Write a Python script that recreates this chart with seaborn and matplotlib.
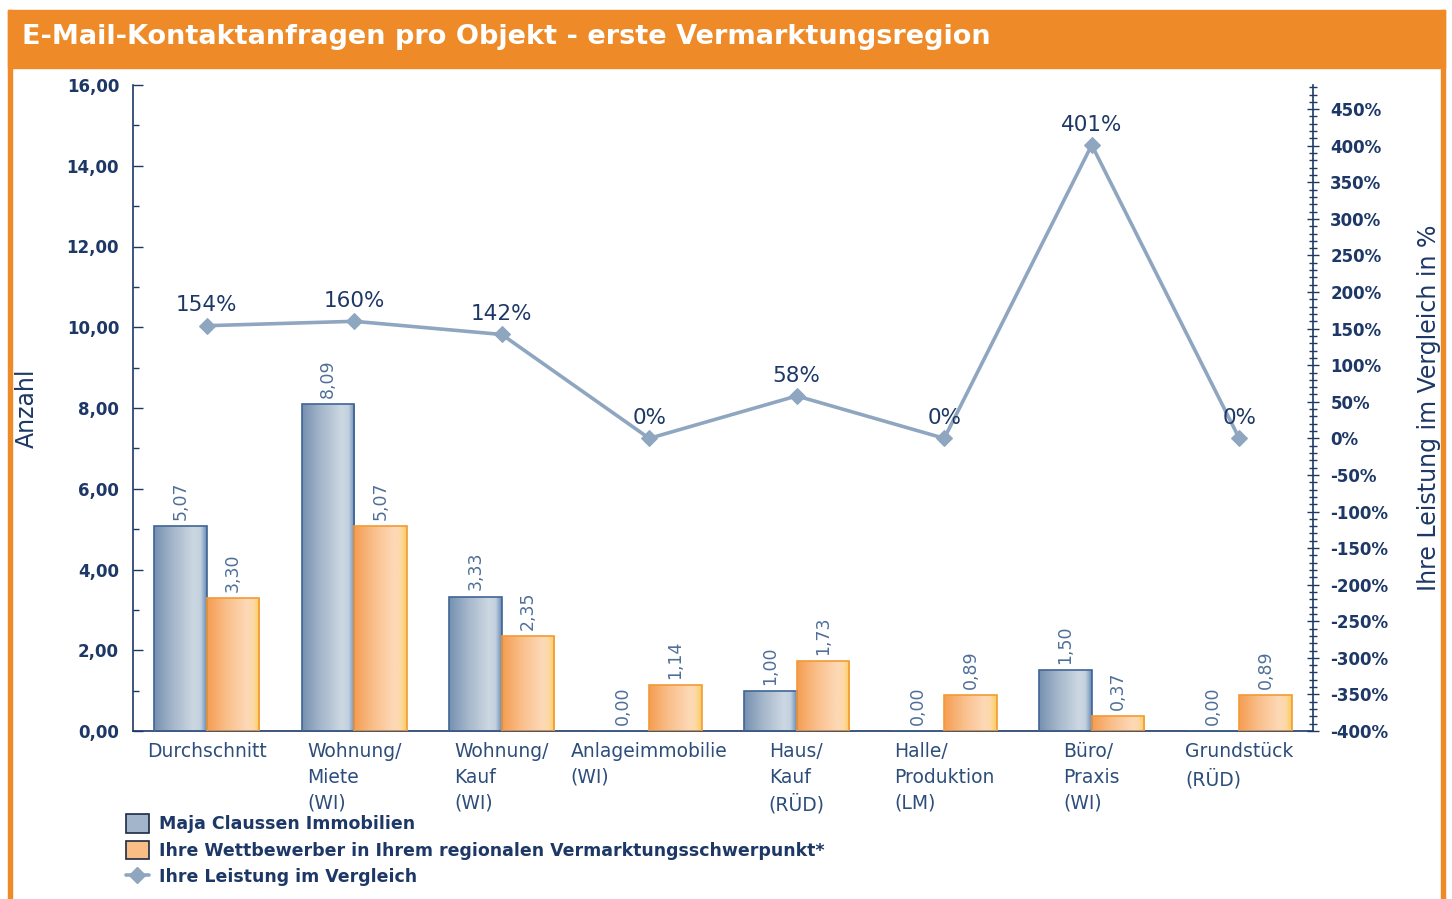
import numpy as np
import pandas as pd
import seaborn as sns
import matplotlib.pyplot as plt
from matplotlib.ticker import MultipleLocator, FuncFormatter
from matplotlib.colors import LinearSegmentedColormap
from matplotlib.patches import Rectangle, Patch
from matplotlib.lines import Line2D

# --- data ---
kategorien = ["Durchschnitt", "Wohnung/\nMiete\n(WI)", "Wohnung/\nKauf\n(WI)",
              "Anlageimmobilie\n(WI)", "Haus/\nKauf\n(RÜD)", "Halle/\nProduktion\n(LM)",
              "Büro/\nPraxis\n(WI)", "Grundstück\n(RÜD)"]
maja = [5.07, 8.09, 3.33, 0.00, 1.00, 0.00, 1.50, 0.00]
wettbewerb = [3.30, 5.07, 2.35, 1.14, 1.73, 0.89, 0.37, 0.89]
leistung = [154, 160, 142, 0, 58, 0, 401, 0]

serie_a = "Maja Claussen Immobilien"
serie_b = "Ihre Wettbewerber in Ihrem regionalen Vermarktungsschwerpunkt*"
serie_c = "Ihre Leistung im Vergleich"

NAVY = "#1d3866"
LABEL_BLUE = "#4f6f99"
LINE_COL = "#8fa6c0"
ORANGE = "#ee8a27"

df = pd.DataFrame({
    "Kategorie": kategorien * 2,
    "Anzahl": maja + wettbewerb,
    "Serie": [serie_a] * len(maja) + [serie_b] * len(wettbewerb),
})

sns.set_style("white")
plt.rcParams['font.family'] = ['DejaVu Sans']

fig = plt.figure(figsize=(14.52, 8.99), dpi=100)
ax = fig.add_axes([133 / 1452, 1 - 731 / 899, 1180 / 1452, 646 / 899])

sns.barplot(data=df, x="Kategorie", y="Anzahl", hue="Serie", ax=ax,
            palette=["#9fb2c8", "#f9c08a"], width=0.71, legend=False,
            saturation=1, edgecolor="none")

# gradient fill for the bars (dark left, light towards the right, edge stripe)
cm_blue = LinearSegmentedColormap.from_list(
    "b", [(0, "#7690b0"), (0.35, "#a4b6ca"), (0.75, "#ccd7e2"),
          (0.88, "#c3d0de"), (0.95, "#8fa9c8"), (1, "#6188b6")])
cm_orange = LinearSegmentedColormap.from_list(
    "o", [(0, "#f59d52"), (0.35, "#f9bd88"), (0.75, "#fdd8b6"),
          (0.88, "#fdd9a8"), (0.95, "#fcd27a"), (1, "#fbca5a")])
grad = np.linspace(0, 1, 256).reshape(1, -1)
n = len(kategorien)
for i, bar in enumerate(ax.patches[:2 * n]):
    x, w, h = bar.get_x(), bar.get_width(), bar.get_height()
    blue = i < n
    bar.set_facecolor("none")
    bar.set_edgecolor("#3f6596" if blue else "#f29a35")
    bar.set_linewidth(1.2)
    bar.set_zorder(3)
    if h > 0:
        im = ax.imshow(grad, extent=[x, x + w, 0, h], aspect="auto",
                       cmap=cm_blue if blue else cm_orange, zorder=2.5)
        im.set_clip_path(bar)
    txt = f"{h:.2f}".replace(".", ",")
    ax.text(x + w / 2, h + 0.15, txt, rotation=90, ha="center", va="bottom",
            fontsize=12.5, color=LABEL_BLUE, zorder=4)

ax.set_xlim(-0.5, n - 0.5)
ax.set_ylim(0, 16)
ax.yaxis.set_major_locator(MultipleLocator(2))
ax.yaxis.set_minor_locator(MultipleLocator(1))
ax.yaxis.set_major_formatter(FuncFormatter(lambda v, p: f"{v:.2f}".replace(".", ",")))
ax.tick_params(axis="y", which="major", direction="in", length=7, width=1,
               color=NAVY, labelsize=12, labelcolor=NAVY, pad=10, left=True)
ax.tick_params(axis="y", which="minor", direction="in", length=4, width=1,
               color=NAVY, left=True)
for lab in ax.get_yticklabels():
    lab.set_fontweight("bold")
ax.tick_params(axis="x", length=0, pad=8)
ax.set_xticks(range(n))
ax.set_xticklabels(kategorien, fontsize=13.5, color="#2d4e7b",
                   ha="center", multialignment="left", linespacing=1.45, va="top")
ax.set_xlabel("")
ax.set_ylabel("Anzahl", fontsize=17, color=NAVY)
ax.yaxis.set_label_coords(-0.08, 0.5)
for s in ["top", "right"]:
    ax.spines[s].set_visible(False)
for s in ["left", "bottom"]:
    ax.spines[s].set_color(NAVY)
    ax.spines[s].set_linewidth(1.2)

# performance line on the secondary axis
ax2 = ax.twinx()
sns.lineplot(x=np.arange(n), y=leistung, ax=ax2, color=LINE_COL, linewidth=2.6,
             marker="D", markersize=8.5, markeredgecolor=LINE_COL, zorder=5)
for xi, v in enumerate(leistung):
    ax2.text(xi, v + 14, f"{v}%", ha="center", va="bottom", fontsize=15.5,
             color=NAVY, zorder=6)
ax2.set_ylim(-400, 483)
ax2.yaxis.set_major_locator(MultipleLocator(50))
ax2.yaxis.set_minor_locator(MultipleLocator(10))
ax2.yaxis.set_major_formatter(FuncFormatter(lambda v, p: f"{v:.0f}%"))
ax2.tick_params(axis="y", which="major", direction="inout", length=9, width=1,
                color=NAVY, labelsize=12, labelcolor=NAVY, pad=8)
ax2.tick_params(axis="y", which="minor", direction="inout", length=6, width=1,
                color=NAVY)
for lab in ax2.get_yticklabels():
    lab.set_fontweight("bold")
ax2.set_ylabel("Ihre Leistung im Vergleich in %", fontsize=17, color=NAVY, rotation=90)
ax2.yaxis.set_label_coords(1.088, 0.5)
for s in ["top", "left", "bottom"]:
    ax2.spines[s].set_visible(False)
ax2.spines["right"].set_color(NAVY)
ax2.spines["right"].set_linewidth(1.2)
ax2.set_xlim(-0.5, n - 0.5)

# legend
handles = [
    Patch(facecolor="#a3b5ca", edgecolor="#1b2a44", linewidth=1.2, label=serie_a),
    Patch(facecolor="#f9bd86", edgecolor="#1b2a44", linewidth=1.2, label=serie_b),
    Line2D([0], [0], color=LINE_COL, linewidth=2.6, marker="D", markersize=8,
           label=serie_c),
]
leg = fig.legend(handles=handles, loc="upper left", bbox_to_anchor=(0.076, 0.112),
                 frameon=False, handlelength=1.3, handleheight=1.3, labelspacing=0.42,
                 handletextpad=0.6, prop={"size": 12.5, "weight": "bold"})
for t in leg.get_texts():
    t.set_color(NAVY)

# orange frame and title band
fig.patches.append(Rectangle((8 / 1452, 1 - 68 / 899), 1437 / 1452, 58 / 899,
                             transform=fig.transFigure, color=ORANGE, zorder=0))
fig.patches.append(Rectangle((8 / 1452, 0), 4 / 1452, 1 - 10 / 899,
                             transform=fig.transFigure, color=ORANGE, zorder=0))
fig.patches.append(Rectangle((1441 / 1452, 0), 4 / 1452, 1 - 10 / 899,
                             transform=fig.transFigure, color=ORANGE, zorder=0))
fig.text(22 / 1452, 1 - 37 / 899, "E-Mail-Kontaktanfragen pro Objekt - erste Vermarktungsregion",
         color="white", fontsize=19.5, fontweight="bold", ha="left", va="center")

fig.savefig("out.png", dpi=100)
